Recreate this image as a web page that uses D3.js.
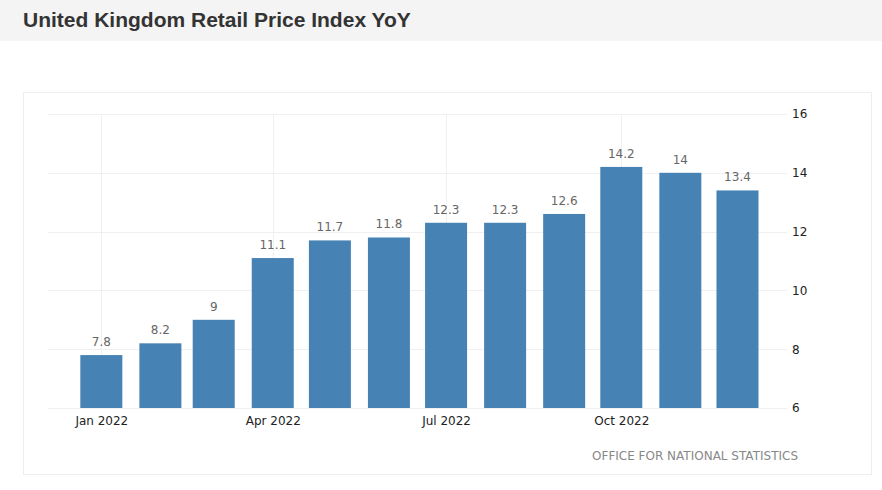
<!DOCTYPE html>
<html lang="en">
<head>
<meta charset="utf-8">
<title>United Kingdom Retail Price Index YoY</title>
<script src="https://cdn.jsdelivr.net/npm/d3@7"></script>
<style>
body { margin: 0; background: #fff; font-family: "DejaVu Sans", Verdana, sans-serif; }
#vis svg { display: block; }
</style>
</head>
<body>
<div id="vis"></div>
<script>

/* Data */
/* ==== */

var months = ['2022-01', '2022-02', '2022-03', '2022-04', '2022-05', '2022-06',
              '2022-07', '2022-08', '2022-09', '2022-10', '2022-11', '2022-12'];
var values = [7.8, 8.2, 9, 11.1, 11.7, 11.8, 12.3, 12.3, 12.6, 14.2, 14, 13.4];
var yTicks = [6, 8, 10, 12, 14, 16];
var xTicks = ['2022-01', '2022-04', '2022-07', '2022-10'];

var title = 'United Kingdom Retail Price Index YoY';
var source = 'OFFICE FOR NATIONAL STATISTICS';

/* SVG */
/* === */

var width = 882, height = 490;
var parse = d3.utcParse('%Y-%m');

var svg = d3.select('#vis')
  .append('svg')
    .attr('width', width)
    .attr('height', height);

// title bar
svg.append('rect')
  .attr('x', 0).attr('y', 0)
  .attr('width', width).attr('height', 41)
  .attr('fill', '#f4f4f4');

svg.append('text')
  .attr('x', 23).attr('y', 27)
  .attr('font-family', '"Liberation Sans", Arial, sans-serif')
  .attr('font-weight', 'bold')
  .attr('font-size', 21)
  .attr('fill', '#333')
  .text(title);

// chart panel
svg.append('rect')
  .attr('x', 23.5).attr('y', 92.5)
  .attr('width', 848).attr('height', 382)
  .attr('fill', 'none')
  .attr('stroke', '#eeeeee');

/* Scales */
/* ====== */

var x = d3.scaleUtc()
  .domain([new Date(Date.UTC(2021, 11, 4)), new Date(Date.UTC(2022, 11, 27))])
  .range([48, 787]);

var y = d3.scaleLinear()
  .domain([6, 16])
  .range([408, 114]);

var barWidth = 42;

/* Grid */
/* ==== */

svg.append('g')
    .selectAll('line')
  .data(yTicks)
  .enter().append('line')
    .attr('x1', 48).attr('x2', 787)
    .attr('y1', function(d) { return Math.round(y(d)) + 0.5; })
    .attr('y2', function(d) { return Math.round(y(d)) + 0.5; })
    .attr('stroke', '#f0f0f0');

svg.append('g')
    .selectAll('line')
  .data(xTicks)
  .enter().append('line')
    .attr('x1', function(d) { return Math.round(x(parse(d))) + 0.5; })
    .attr('x2', function(d) { return Math.round(x(parse(d))) + 0.5; })
    .attr('y1', 114).attr('y2', 408)
    .attr('stroke', '#f0f0f0');

/* Bars */
/* ==== */

svg.append('g')
    .selectAll('rect')
  .data(values)
  .enter().append('rect')
    .attr('x', function(d, i) { return x(parse(months[i])) - barWidth / 2; })
    .attr('y', function(d) { return y(d); })
    .attr('width', barWidth)
    .attr('height', function(d) { return y(6) - y(d); })
    .attr('fill', '#4682b4');

svg.append('g')
    .selectAll('text')
  .data(values)
  .enter().append('text')
    .attr('x', function(d, i) { return x(parse(months[i])); })
    .attr('y', function(d) { return y(d) - 9; })
    .attr('text-anchor', 'middle')
    .attr('font-size', 12)
    .attr('fill', '#666')
    .text(function(d) { return d; });

/* Axes */
/* ==== */

var yAxis = svg.append('g')
  .attr('transform', 'translate(787,0)')
  .call(d3.axisRight(y).tickValues(yTicks).tickSize(0).tickPadding(5).tickFormat(d3.format('d')));
yAxis.select('.domain').remove();
yAxis.selectAll('text')
  .attr('font-family', '"DejaVu Sans", Verdana, sans-serif')
  .attr('font-size', 12)
  .attr('fill', '#222');

var xAxis = svg.append('g')
  .attr('transform', 'translate(0,408)')
  .call(d3.axisBottom(x)
    .tickValues(xTicks.map(parse))
    .tickSize(0)
    .tickPadding(8)
    .tickFormat(d3.utcFormat('%b %Y')));
xAxis.select('.domain').remove();
xAxis.selectAll('text')
  .attr('font-family', '"DejaVu Sans", Verdana, sans-serif')
  .attr('font-size', 12)
  .attr('fill', '#222');

// source
svg.append('text')
  .attr('x', 798).attr('y', 460)
  .attr('text-anchor', 'end')
  .attr('font-size', 12)
  .attr('fill', '#888')
  .text(source);

</script>
</body>
</html>
